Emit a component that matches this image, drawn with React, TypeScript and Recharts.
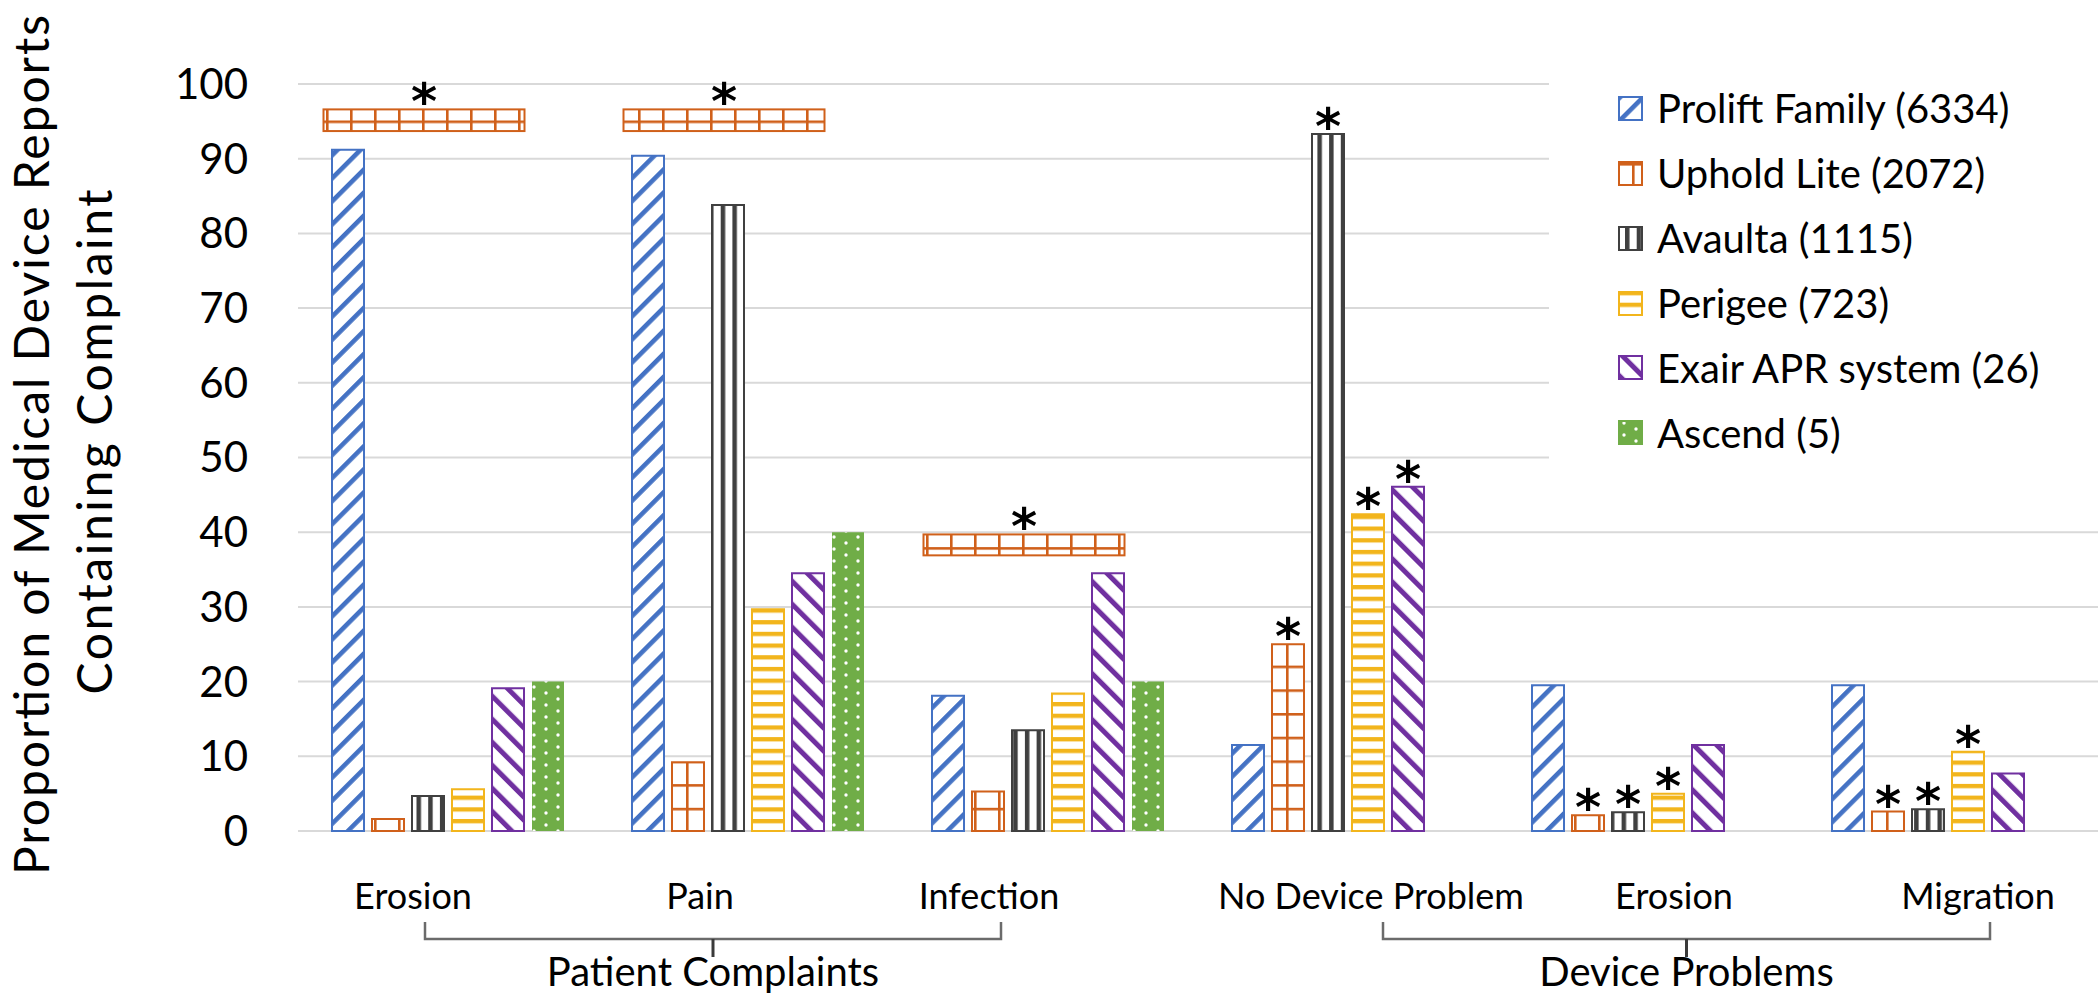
import React from 'react';
import { BarChart, Bar, XAxis, YAxis, CartesianGrid, ReferenceArea, LabelList } from 'recharts';

// category labels along the x axis, and the two groups they belong to
const categories = ['Erosion', 'Pain', 'Infection', 'No Device Problem', 'Erosion', 'Migration'];
const groups = [
  { name: 'Patient Complaints', first: 0, last: 2 },
  { name: 'Device Problems', first: 3, last: 5 },
];

const yTicks = [0, 10, 20, 30, 40, 50, 60, 70, 80, 90, 100];

// proportion (%) of reports per device
const prolift = [91.2, 90.4, 18.1, 11.5, 19.5, 19.5];
const uphold = [1.6, 9.2, 5.3, 25.0, 2.1, 2.6];
const avaulta = [4.7, 83.8, 13.5, 93.3, 2.5, 2.9];
const perigee = [5.6, 29.7, 18.4, 42.4, 5.0, 10.6];
const exair = [19.1, 34.5, 34.5, 46.1, 11.5, 7.7];
const ascend = [20, 40, 20, null, null, null];

// significance stars on single bars
const upholdSig = [false, false, false, true, true, true];
const avaultaSig = [false, false, false, true, true, true];
const perigeeSig = [false, false, false, true, true, true];
const exairSig = [false, false, false, true, false, false];

// floating Uphold Lite boxes with a star (category index, low, high)
const sigBoxes = [
  { cat: 0, low: 93.7, high: 96.6 },
  { cat: 1, low: 93.7, high: 96.6 },
  { cat: 2, low: 36.9, high: 39.7 },
];

const W = 2099;
const H = 997;
const PLOT_LEFT = 298;
const PLOT_W = W - PLOT_LEFT - 1;
const BAND = PLOT_W / categories.length;
const labelShift = [-35, -48, -59, 23, 26, 30];

const BLUE = '#4472C4';
const ORANGE = '#D0601A';
const GREY = '#404040';
const GOLD = '#F2B51C';
const PURPLE = '#7030A0';
const GREEN = '#70AD47';

const series = [
  { key: 'prolift', name: 'Prolift Family (6334)', pat: 'pat-prolift', stroke: BLUE },
  { key: 'uphold', name: 'Uphold Lite (2072)', pat: 'pat-uphold', stroke: ORANGE },
  { key: 'avaulta', name: 'Avaulta (1115)', pat: 'pat-avaulta', stroke: GREY },
  { key: 'perigee', name: 'Perigee (723)', pat: 'pat-perigee', stroke: GOLD },
  { key: 'exair', name: 'Exair APR system (26)', pat: 'pat-exair', stroke: PURPLE },
  { key: 'ascend', name: 'Ascend (5)', pat: 'pat-ascend', stroke: 'none' },
];

const star = (sig: boolean) => (sig ? '*' : '');

const data = categories.map((label, i) => ({
  id: `c${i}`,
  label,
  prolift: prolift[i],
  uphold: uphold[i],
  avaulta: avaulta[i],
  perigee: perigee[i],
  exair: exair[i],
  ascend: ascend[i],
  upholdSig: star(upholdSig[i]),
  avaultaSig: star(avaultaSig[i]),
  perigeeSig: star(perigeeSig[i]),
  exairSig: star(exairSig[i]),
}));

const Star = ({ x, top }: { x: number; top: number }) => (
  <text
    x={x}
    y={top + 10}
    textAnchor="middle"
    fontFamily="DejaVu Sans"
    fontWeight="bold"
    fontSize={50}
    fill="#000"
  >
    *
  </text>
);

const renderStar = (props: any) => {
  const { x, y, width, value } = props;
  if (value !== '*') return null;
  return <Star x={Number(x) + Number(width) / 2} top={Number(y)} />;
};

const SigBox = (props: any) => {
  const { x, y, width, height } = props;
  const bx = x + width * 0.085;
  const bw = width * 0.67;
  return (
    <g>
      <rect x={bx} y={y} width={bw} height={height} fill="url(#pat-uphold)" stroke={ORANGE} strokeWidth={2} />
      <Star x={bx + bw / 2} top={y} />
    </g>
  );
};

const CatTick = (props: any) => {
  const { x, y, payload } = props;
  const i = payload.index;
  const cx = x + labelShift[i];
  const group = groups.find((g) => g.first === i);
  let bracket = null;
  if (group) {
    const x1 = cx + 12;
    const x2 = x + (group.last - group.first) * BAND + labelShift[group.last] + 12;
    const mid = (x1 + x2) / 2;
    const by = y + 108;
    bracket = (
      <g>
        <path d={`M${x1},${by - 17} L${x1},${by} L${x2},${by} L${x2},${by - 17}`} fill="none" stroke="#6b6b6b" strokeWidth={2.5} />
        <line x1={mid} y1={by} x2={mid} y2={by + 18} stroke="#3a3a3a" strokeWidth={3} />
        <text x={mid} y={y + 155} textAnchor="middle" fontFamily="Lato" fontSize={40} fill="#000">
          {group.name}
        </text>
      </g>
    );
  }
  return (
    <g>
      <text x={cx} y={y + 78} textAnchor="middle" fontFamily="Lato" fontSize={36} fill="#000">
        {categories[i]}
      </text>
      {bracket}
    </g>
  );
};

const Patterns = () => (
  <svg width={0} height={0} style={{ position: 'absolute' }}>
    <defs>
      <pattern id="pat-prolift" width={16.3} height={16.3} patternUnits="userSpaceOnUse" patternTransform="rotate(45)">
        <rect width={16.3} height={16.3} fill="#fff" />
        <rect width={4.6} height={16.3} fill={BLUE} />
      </pattern>
      <pattern id="pat-exair" width={16.3} height={16.3} patternUnits="userSpaceOnUse" patternTransform="rotate(-45)">
        <rect width={16.3} height={16.3} fill="#fff" />
        <rect width={5} height={16.3} fill={PURPLE} />
      </pattern>
      <pattern id="pat-uphold" width={24} height={23.7} patternUnits="userSpaceOnUse" patternTransform="translate(14,2)">
        <rect width={24} height={23.7} fill="#fff" />
        <rect width={2.6} height={23.7} fill={ORANGE} />
        <rect width={24} height={2.6} fill={ORANGE} />
      </pattern>
      <pattern id="pat-avaulta" width={11.7} height={10} patternUnits="userSpaceOnUse" patternTransform="translate(7,0)">
        <rect width={11.7} height={10} fill="#fff" />
        <rect width={4.5} height={10} fill={GREY} />
      </pattern>
      <pattern id="pat-perigee" width={10} height={11.7} patternUnits="userSpaceOnUse">
        <rect width={10} height={11.7} fill="#fff" />
        <rect width={10} height={4.3} fill={GOLD} />
      </pattern>
      <pattern id="pat-ascend" width={24} height={12} patternUnits="userSpaceOnUse">
        <rect width={24} height={12} fill={GREEN} />
        <circle cx={6} cy={3} r={1.7} fill="#fff" />
        <circle cx={18} cy={9} r={1.7} fill="#fff" />
      </pattern>
    </defs>
  </svg>
);

const YTitle = () => (
  <svg width={PLOT_LEFT} height={H} style={{ position: 'absolute', left: 0, top: 0 }}>
    <g transform="translate(49,445) rotate(-90)">
      <text x={0} y={0} textAnchor="middle" fontFamily="Lato" fontSize={48} textLength={860} fill="#000">
        Proportion of Medical Device Reports
      </text>
    </g>
    <g transform="translate(112,442) rotate(-90)">
      <text x={0} y={0} textAnchor="middle" fontFamily="Lato" fontSize={48} textLength={505} fill="#000">
        Containing Complaint
      </text>
    </g>
  </svg>
);

const LegendBox = () => (
  <div
    style={{
      position: 'absolute',
      left: 1549,
      top: 70,
      width: 550,
      height: 400,
      background: '#fff',
      paddingTop: 6,
      paddingLeft: 69,
      boxSizing: 'border-box',
    }}
  >
    {series.map((s) => (
      <div key={s.key} style={{ display: 'flex', alignItems: 'center', height: 64.86 }}>
        <svg width={25} height={25}>
          <rect
            x={1}
            y={1}
            width={23}
            height={23}
            fill={`url(#${s.pat})`}
            stroke={s.stroke === 'none' ? GREEN : s.stroke}
            strokeWidth={2}
          />
        </svg>
        <span style={{ marginLeft: 14, fontFamily: 'Lato', fontSize: 40, lineHeight: 1, color: '#000' }}>{s.name}</span>
      </div>
    ))}
  </div>
);

export default function App() {
  return (
    <div style={{ position: 'absolute', left: 0, top: 0, width: W, height: H, background: '#fff' }}>
      <Patterns />
      <BarChart
        width={W}
        height={H}
        data={data}
        margin={{ top: 84, right: 1, left: 0, bottom: 0 }}
        barCategoryGap={34}
        barGap={8}
      >
        <CartesianGrid vertical={false} stroke="#d9d9d9" strokeWidth={2} />
        <XAxis
          dataKey="id"
          height={166}
          axisLine={false}
          tickLine={false}
          tickSize={0}
          tickMargin={0}
          interval={0}
          tick={(p: any) => <CatTick {...p} />}
        />
        <YAxis
          width={PLOT_LEFT}
          domain={[0, 100]}
          ticks={yTicks}
          axisLine={false}
          tickLine={false}
          tickSize={0}
          tickMargin={50}
          tick={{ fontFamily: 'Lato', fontSize: 42, fill: '#000' }}
        />
        {sigBoxes.map((b) => (
          <ReferenceArea
            key={b.cat}
            x1={data[b.cat].id}
            x2={data[b.cat].id}
            y1={b.low}
            y2={b.high}
            shape={(p: any) => <SigBox {...p} />}
          />
        ))}
        {series.map((s) => (
          <Bar
            key={s.key}
            dataKey={s.key}
            name={s.name}
            fill={`url(#${s.pat})`}
            stroke={s.stroke}
            strokeWidth={s.stroke === 'none' ? 0 : 2}
            isAnimationActive={false}
          >
            {s.key !== 'prolift' && s.key !== 'ascend' && (
              <LabelList dataKey={`${s.key}Sig`} content={renderStar} />
            )}
          </Bar>
        ))}
      </BarChart>
      <YTitle />
      <LegendBox />
    </div>
  );
}
